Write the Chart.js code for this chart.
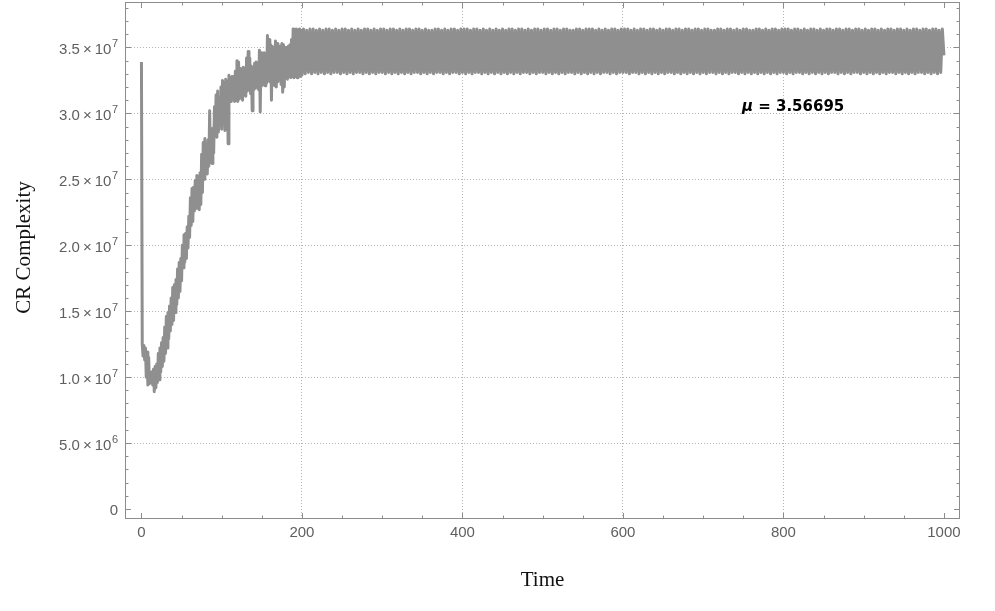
<!DOCTYPE html>
<html>
<head>
<meta charset="utf-8">
<script src="https://cdn.jsdelivr.net/npm/chart.js@4.4.1/dist/chart.umd.min.js"></script>
<style>
  html, body { margin: 0; padding: 0; background: #fff; }
  #wrap { width: 995px; height: 611px; }
</style>
</head>
<body>
<div id="wrap"><canvas id="c"></canvas></div>
<script>
// CR complexity, in units of 10^6
// t = 0..200, one value per time step
const earlyStart = 0, earlyStep = 1;
const earlyValues = [
  33.9, 12.5, 11.6, 12.4, 11.3, 12.2, 10.0, 11.9, 9.4, 11.5,
  9.5, 10.2, 9.6, 10.4, 9.4, 10.6, 8.9, 10.8, 9.2, 11.0,
  9.6, 11.8, 9.8, 12.2, 10.4, 12.6, 10.8, 13.0, 11.2, 13.8,
  11.8, 14.6, 12.2, 14.9, 12.9, 15.4, 13.5, 16.0, 14.0, 16.8,
  14.3, 17.0, 14.9, 17.4, 15.5, 18.2, 16.0, 18.7, 16.5, 19.0,
  17.3, 20.0, 18.3, 20.8, 18.7, 20.9, 19.0, 21.4, 19.8, 22.2,
  20.6, 23.6, 21.5, 24.3, 21.8, 24.4, 22.6, 24.9, 22.8, 25.3,
  23.0, 25.2, 22.7, 25.5, 23.1, 26.9, 24.0, 27.8, 25.0, 28.1,
  25.5, 27.6, 25.4, 28.0, 26.0, 30.2, 26.3, 28.4, 26.2, 28.9,
  27.0, 30.5, 28.6, 31.4, 28.2, 31.7, 28.6, 31.2, 29.3, 32.0,
  28.8, 32.5, 29.2, 32.3, 28.7, 32.6, 30.2, 32.4, 27.7, 32.9,
  31.0, 32.7, 30.9, 32.8, 31.1, 32.6, 30.9, 33.2, 31.0, 34.0,
  30.9, 33.9, 31.1, 33.4, 31.2, 33.3, 31.0, 33.5, 31.4, 33.2,
  31.3, 34.2, 31.7, 34.7, 31.8, 34.2, 31.5, 33.6, 30.2, 33.4,
  31.8, 33.8, 31.9, 33.9, 32.0, 33.7, 31.8, 34.8, 30.1, 34.6,
  32.1, 34.5, 32.2, 34.6, 32.1, 34.4, 32.3, 35.9, 32.5, 35.6,
  32.4, 35.2, 31.0, 35.1, 32.3, 35.0, 32.1, 35.5, 32.0, 35.3,
  32.4, 34.9, 32.6, 35.1, 32.2, 35.3, 31.6, 35.2, 32.0, 35.0,
  32.7, 35.0, 32.6, 35.1, 32.8, 35.2, 32.7, 35.6, 32.8, 36.4,
  32.7, 36.3, 32.8, 36.4, 32.7, 36.3, 32.9, 36.4, 32.8, 36.3,
  32.9
];
// t = 202..1000, every second time step
const lateStart = 202, lateStep = 2;
const lateValues = [
  36.4, 33.0, 36.3, 33.1, 36.4, 33.0, 36.4, 33.1, 36.3, 33.0, 36.4, 33.1, 36.3, 33.0, 36.4, 33.1, 36.4, 33.0, 36.3, 33.1,
  36.4, 33.1, 36.3, 33.0, 36.4, 33.1, 36.4, 33.0, 36.3, 33.1, 36.4, 33.0, 36.3, 33.1, 36.4, 33.1, 36.3, 33.0, 36.4, 33.1,
  36.4, 33.0, 36.3, 33.1, 36.4, 33.0, 36.3, 33.1, 36.4, 33.1, 36.4, 33.0, 36.3, 33.1, 36.4, 33.0, 36.4, 33.1, 36.3, 33.0,
  36.4, 33.1, 36.3, 33.0, 36.4, 33.1, 36.4, 33.0, 36.3, 33.1, 36.4, 33.1, 36.4, 33.0, 36.3, 33.1, 36.4, 33.0, 36.3, 33.1,
  36.3, 33.0, 36.4, 33.1, 36.4, 33.1, 36.3, 33.0, 36.4, 33.1, 36.3, 33.0, 36.4, 33.1, 36.4, 33.1, 36.3, 33.0, 36.4, 33.1,
  36.4, 33.0, 36.4, 33.1, 36.3, 33.0, 36.4, 33.1, 36.4, 33.1, 36.3, 33.0, 36.4, 33.1, 36.3, 33.0, 36.4, 33.1, 36.3, 33.0,
  36.4, 33.1, 36.3, 33.0, 36.4, 33.1, 36.3, 33.0, 36.4, 33.1, 36.4, 33.0, 36.3, 33.1, 36.4, 33.0, 36.4, 33.1, 36.3, 33.1,
  36.4, 33.0, 36.3, 33.1, 36.4, 33.0, 36.4, 33.1, 36.3, 33.1, 36.4, 33.0, 36.4, 33.1, 36.3, 33.0, 36.4, 33.1, 36.4, 33.0,
  36.3, 33.1, 36.4, 33.0, 36.4, 33.1, 36.3, 33.1, 36.3, 33.0, 36.4, 33.1, 36.4, 33.0, 36.3, 33.1, 36.4, 33.0, 36.4, 33.1,
  36.4, 33.0, 36.3, 33.1, 36.4, 33.0, 36.3, 33.1, 36.4, 33.1, 36.3, 33.0, 36.4, 33.1, 36.4, 33.0, 36.3, 33.1, 36.4, 33.1,
  36.4, 33.1, 36.4, 33.0, 36.3, 33.1, 36.4, 33.1, 36.3, 33.0, 36.4, 33.1, 36.4, 33.0, 36.3, 33.1, 36.4, 33.0, 36.4, 33.1,
  36.3, 33.0, 36.4, 33.1, 36.3, 33.0, 36.4, 33.1, 36.4, 33.1, 36.3, 33.0, 36.4, 33.1, 36.4, 33.0, 36.3, 33.1, 36.4, 33.0,
  36.4, 33.1, 36.3, 33.0, 36.4, 33.1, 36.4, 33.0, 36.3, 33.1, 36.4, 33.0, 36.4, 33.1, 36.3, 33.1, 36.3, 33.0, 36.4, 33.1,
  36.4, 33.0, 36.3, 33.1, 36.4, 33.0, 36.4, 33.1, 36.3, 33.1, 36.4, 33.0, 36.3, 33.1, 36.4, 33.0, 36.4, 33.1, 36.3, 33.0,
  36.3, 33.1, 36.4, 33.0, 36.4, 33.1, 36.3, 33.0, 36.4, 33.1, 36.3, 33.0, 36.4, 33.1, 36.4, 33.0, 36.3, 33.1, 36.4, 33.1,
  36.4, 33.0, 36.4, 33.1, 36.3, 33.0, 36.4, 33.1, 36.4, 33.1, 36.3, 33.0, 36.4, 33.1, 36.3, 33.0, 36.4, 33.1, 36.4, 33.0,
  36.3, 33.1, 36.4, 33.0, 36.3, 33.1, 36.4, 33.0, 36.4, 33.1, 36.3, 33.1, 36.4, 33.0, 36.4, 33.1, 36.3, 33.0, 36.4, 33.1,
  36.4, 33.0, 36.3, 33.1, 36.4, 33.1, 36.4, 33.0, 36.3, 33.1, 36.4, 33.0, 36.3, 33.1, 36.4, 33.0, 36.4, 33.1, 36.3, 33.0,
  36.4, 33.1, 36.3, 33.0, 36.4, 33.1, 36.4, 33.1, 36.3, 33.0, 36.4, 33.1, 36.4, 33.0, 36.3, 33.1, 36.4, 33.0, 36.3, 33.1,
  36.4, 33.0, 36.4, 33.1, 36.3, 33.1, 36.4, 33.0, 36.4, 33.1, 36.3, 33.0, 36.4, 33.1, 36.4, 33.0, 36.3, 33.1, 36.4, 34.4
];

const xTicks = [0, 200, 400, 600, 800, 1000];
const yTicks = [0, 5, 10, 15, 20, 25, 30, 35];
// mantissa and power of ten for each y tick
const yTickLabels = [['0', ''], ['5.0\u2009×\u200910', '6'], ['1.0\u2009×\u200910', '7'], ['1.5\u2009×\u200910', '7'],
  ['2.0\u2009×\u200910', '7'], ['2.5\u2009×\u200910', '7'], ['3.0\u2009×\u200910', '7'], ['3.5\u2009×\u200910', '7']];
const yTitle = 'CR Complexity';
const muSymbol = 'μ', muText = ' = 3.56695';
const muAt = [812, 30.5];

const points = [];
earlyValues.forEach((v, i) => points.push({x: earlyStart + i * earlyStep, y: v}));
lateValues.forEach((v, i) => points.push({x: lateStart + i * lateStep, y: v}));

// Mathematica style frame with ticks pointing inward on all four sides
const framePlugin = {
  id: 'frame',
  afterDatasetsDraw(chart) {
    const {ctx, chartArea: a, scales: {x, y}} = chart;
    ctx.save();
    ctx.strokeStyle = '#8c8c8c';
    ctx.lineWidth = 1;
    ctx.strokeRect(a.left + 0.5, a.top + 0.5, a.right - a.left - 1, a.bottom - a.top - 1);
    ctx.beginPath();
    for (let t = 0; t <= 1000; t += 50) {
      const px = Math.round(x.getPixelForValue(t)) + 0.5;
      const len = xTicks.includes(t) ? 6 : 3.5;
      ctx.moveTo(px, a.bottom); ctx.lineTo(px, a.bottom - len);
      ctx.moveTo(px, a.top); ctx.lineTo(px, a.top + len);
    }
    for (let v = 0; v <= 38; v += 1) {
      const py = Math.round(y.getPixelForValue(v)) + 0.5;
      const len = yTicks.includes(v) ? 6 : 3.5;
      ctx.moveTo(a.left, py); ctx.lineTo(a.left + len, py);
      ctx.moveTo(a.right, py); ctx.lineTo(a.right - len, py);
    }
    ctx.stroke();

    // y tick labels with raised exponent
    ctx.fillStyle = '#5f5f5f';
    ctx.textAlign = 'right';
    ctx.textBaseline = 'alphabetic';
    const right = a.left - 7;
    yTicks.forEach((v, i) => {
      const [mant, pow] = yTickLabels[i];
      const py = y.getPixelForValue(v);
      ctx.font = '11px "Liberation Sans"';
      const pw = pow ? ctx.measureText(pow).width : 0;
      if (pow) ctx.fillText(pow, right, py);
      ctx.font = '15px "Liberation Sans"';
      ctx.fillText(mant, right - pw - (pow ? 0.5 : 0), py + 6.5);
    });

    // y title, a little above the middle as in the original
    ctx.save();
    ctx.translate(24, (a.top + a.bottom) / 2 - 13);
    ctx.rotate(-Math.PI / 2);
    ctx.fillStyle = '#111';
    ctx.font = '21px "Liberation Serif"';
    ctx.textAlign = 'center';
    ctx.textBaseline = 'middle';
    ctx.fillText(yTitle, 0, 0);
    ctx.restore();
    ctx.restore();
  }
};

const muPlugin = {
  id: 'mu',
  afterDraw(chart) {
    const {ctx, scales: {x, y}} = chart;
    const cx = x.getPixelForValue(muAt[0]), cy = y.getPixelForValue(muAt[1]);
    ctx.save();
    ctx.fillStyle = '#000';
    ctx.textBaseline = 'middle';
    ctx.font = 'italic bold 15px "DejaVu Sans"';
    const w1 = ctx.measureText(muSymbol).width;
    ctx.font = 'bold 15px "DejaVu Sans"';
    const w2 = ctx.measureText(muText).width;
    const left = cx - (w1 + w2) / 2;
    ctx.font = 'italic bold 15px "DejaVu Sans"';
    ctx.fillText(muSymbol, left, cy);
    ctx.font = 'bold 15px "DejaVu Sans"';
    ctx.fillText(muText, left + w1, cy);
    ctx.restore();
  }
};

const gridColor = (c, edges) => (c.tick && edges.includes(c.tick.value)) ? 'rgba(0,0,0,0)' : '#b4b4b4';

new Chart(document.getElementById('c'), {
  type: 'line',
  data: {
    datasets: [{
      data: points,
      borderColor: '#8f8f8f',
      borderWidth: 3,
      borderJoinStyle: 'round',
      pointRadius: 0,
      tension: 0,
      fill: false
    }]
  },
  options: {
    responsive: true,
    maintainAspectRatio: false,
    animation: false,
    parsing: false,
    normalized: true,
    layout: { padding: { left: 0, right: 35, top: 2, bottom: 0 } },
    plugins: { legend: { display: false }, tooltip: { enabled: false } },
    scales: {
      x: {
        type: 'linear',
        min: -20.5,
        max: 1020,
        afterBuildTicks: s => { s.ticks = xTicks.map(v => ({value: v})); },
        afterFit: s => { s.height = 92; s.paddingLeft = 0; s.paddingRight = 0; },
        grid: { drawTicks: false, color: c => gridColor(c, [0, 1000]), lineWidth: 1 },
        border: { display: false, dash: [1, 2] },
        ticks: { padding: 5, color: '#5f5f5f', maxRotation: 0, font: { family: 'Liberation Sans', size: 15 }, callback: v => String(v) },
        title: { display: true, text: 'Time', color: '#111', font: { family: 'Liberation Serif', size: 21 }, padding: { top: 0, bottom: 18 } }
      },
      y: {
        type: 'linear',
        min: -0.76,
        max: 38.45,
        afterBuildTicks: s => { s.ticks = yTicks.map(v => ({value: v})); },
        afterFit: s => { s.width = 125; s.paddingTop = 0; s.paddingBottom = 0; },
        grid: { drawTicks: false, color: c => gridColor(c, [0]), lineWidth: 1 },
        border: { display: false, dash: [1, 2] },
        ticks: { display: false }
      }
    }
  },
  plugins: [framePlugin, muPlugin]
});
</script>
</body>
</html>
